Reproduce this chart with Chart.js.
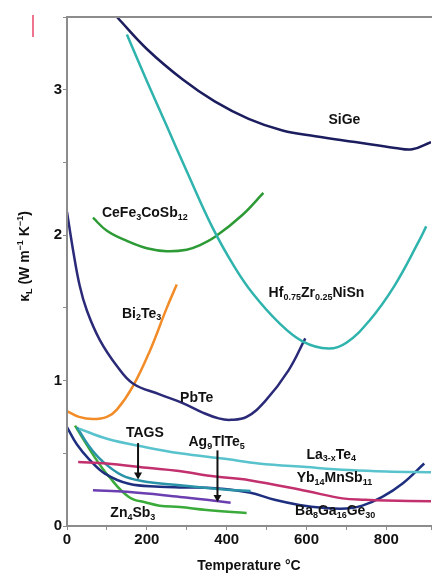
<!DOCTYPE html>
<html>
<head>
<meta charset="utf-8">
<script src="https://cdn.jsdelivr.net/npm/chart.js@4.4.1/dist/chart.umd.min.js"></script>
<style>
html, body { margin: 0; padding: 0; background: #fff; }
canvas { display: block; }
</style>
</head>
<body>
<canvas id="grafica" width="432" height="577"></canvas>
<script>
// temperaturas (°C) y conductividad termica de red (W m-1 K-1)
const siGeT = [125, 200, 290, 370, 455, 540, 622, 722, 822, 865, 912];
const siGeK = [3.5, 3.28, 3.07, 2.92, 2.80, 2.72, 2.68, 2.64, 2.60, 2.59, 2.64];

const hfT = [150, 200, 250, 300, 365, 420, 465, 530, 590, 655, 700, 757, 820, 882, 900];
const hfK = [3.38, 3.06, 2.75, 2.44, 2.05, 1.78, 1.60, 1.40, 1.27, 1.22, 1.26, 1.41, 1.65, 1.96, 2.06];

const ceT = [65, 100, 150, 200, 250, 300, 332, 372, 440, 492];
const ceK = [2.12, 2.03, 1.96, 1.91, 1.89, 1.90, 1.93, 1.99, 2.14, 2.29];

const pbT = [0, 15, 32, 50, 82, 125, 165, 232, 290, 340, 380, 410, 450, 497, 555, 597];
const pbK = [2.16, 1.9, 1.65, 1.48, 1.28, 1.1, 0.98, 0.905, 0.845, 0.78, 0.74, 0.73, 0.75, 0.86, 1.07, 1.29];

const biT = [0, 30, 65, 100, 125, 165, 207, 250, 275];
const biK = [0.79, 0.75, 0.735, 0.75, 0.80, 0.96, 1.2, 1.5, 1.66];

const laT = [30, 100, 200, 283, 400, 480, 600, 707, 800, 912];
const laK = [0.67, 0.60, 0.54, 0.50, 0.46, 0.43, 0.405, 0.385, 0.375, 0.37];

const ybT = [28, 100, 200, 275, 372, 457, 600, 690, 747, 800, 912];
const ybK = [0.44, 0.43, 0.40, 0.38, 0.34, 0.315, 0.24, 0.19, 0.18, 0.175, 0.17];

const tagsT = [25, 55, 87, 137, 187, 283, 400, 460];
const tagsK = [0.68, 0.55, 0.45, 0.35, 0.31, 0.28, 0.25, 0.24];

const baT = [0, 25, 55, 95, 155, 232, 283, 372, 457, 520, 582, 640, 700, 740, 790, 840, 895];
const baK = [0.68, 0.56, 0.46, 0.36, 0.29, 0.27, 0.265, 0.26, 0.23, 0.18, 0.145, 0.125, 0.12, 0.14, 0.2, 0.29, 0.43];

const agT = [65, 150, 283, 350, 410];
const agK = [0.245, 0.235, 0.2, 0.18, 0.16];

const znT = [20, 70, 105, 155, 200, 232, 283, 350, 450];
const znK = [0.69, 0.47, 0.34, 0.2, 0.16, 0.14, 0.13, 0.11, 0.09];

const ticksX = [0, 200, 400, 600, 800];
const ticksY = [0, 1, 2, 3];

// rotulos de cada material
const rotulos = [
    { texto: 'SiGe', t: 695, k: 2.79 },
    { texto: 'CeFe_{3}CoSb_{12}', t: 195, k: 2.15 },
    { texto: 'Hf_{0.75}Zr_{0.25}NiSn', t: 625, k: 1.60 },
    { texto: 'Bi_{2}Te_{3}', t: 187, k: 1.46 },
    { texto: 'PbTe', t: 325, k: 0.88 },
    { texto: 'TAGS', t: 195, k: 0.64 },
    { texto: 'Ag_{9}TlTe_{5}', t: 375, k: 0.575 },
    { texto: 'La_{3-x}Te_{4}', t: 662, k: 0.49 },
    { texto: 'Yb_{14}MnSb_{11}', t: 670, k: 0.33 },
    { texto: 'Ba_{8}Ga_{16}Ge_{30}', t: 672, k: 0.10 },
    { texto: 'Zn_{4}Sb_{3}', t: 165, k: 0.09 },
];
const flechas = [
    { t: 178, desde: 0.57, hasta: 0.32 },
    { t: 377, desde: 0.52, hasta: 0.165 },
];

const fuente = '"Liberation Sans", Arial, sans-serif';

function serie(nombre, t, k, color) {
    return {
        label: nombre,
        data: t.map((x, i) => ({ x: x, y: k[i] })),
        borderColor: color,
        borderWidth: 2.5,
        pointRadius: 0,
        fill: false,
        tension: 0.4,
    };
}

function partes(str) {
    const out = [];
    const re = /([_^])\{([^}]*)\}|([^_^]+)/g;
    let m;
    while ((m = re.exec(str))) {
        out.push(m[3] ? { s: m[3], tipo: '' } : { s: m[2], tipo: m[1] });
    }
    return out;
}

function textoRico(ctx, str, x, y, size) {
    const ps = partes(str);
    const fnt = tipo => 'bold ' + (tipo ? Math.round(size * 0.65) : size) + 'px ' + fuente;
    let w = 0;
    ps.forEach(p => { ctx.font = fnt(p.tipo); p.w = ctx.measureText(p.s).width; w += p.w; });
    let cx = x - w / 2;
    ctx.textAlign = 'left';
    ctx.textBaseline = 'middle';
    ps.forEach(p => {
        ctx.font = fnt(p.tipo);
        const dy = p.tipo === '_' ? size * 0.3 : p.tipo === '^' ? -size * 0.35 : 0;
        ctx.fillText(p.s, cx, y + dy);
        cx += p.w;
    });
}

const extras = {
    id: 'extras',
    afterDatasetsDraw(chart) {
        const ctx = chart.ctx;
        const a = chart.chartArea;
        const sx = chart.scales.x, sy = chart.scales.y;
        ctx.save();
        // marco
        ctx.strokeStyle = '#8c8c8c';
        ctx.lineWidth = 2;
        ctx.strokeRect(a.left, a.top, a.right - a.left + 2, a.bottom - a.top);
        // flechas
        ctx.strokeStyle = '#111';
        ctx.fillStyle = '#111';
        ctx.lineWidth = 2;
        flechas.forEach(f => {
            const x = sx.getPixelForValue(f.t);
            const y1 = sy.getPixelForValue(f.desde), y2 = sy.getPixelForValue(f.hasta);
            ctx.beginPath();
            ctx.moveTo(x, y1);
            ctx.lineTo(x, y2 - 5);
            ctx.stroke();
            ctx.beginPath();
            ctx.moveTo(x - 4, y2 - 7);
            ctx.lineTo(x + 4, y2 - 7);
            ctx.lineTo(x, y2);
            ctx.closePath();
            ctx.fill();
        });
        // rotulos
        ctx.fillStyle = '#111';
        rotulos.forEach(r => {
            textoRico(ctx, r.texto, sx.getPixelForValue(r.t), sy.getPixelForValue(r.k), 14);
        });
        // titulo eje y
        ctx.translate(25, (a.top + a.bottom) / 2 - 15);
        ctx.rotate(-Math.PI / 2);
        textoRico(ctx, 'κ_{L} (W m^{−1} K^{−1})', 0, 0, 14);
        ctx.restore();
        // marca roja
        ctx.save();
        ctx.strokeStyle = '#e8446a';
        ctx.lineWidth = 1.5;
        ctx.beginPath();
        ctx.moveTo(33, 15);
        ctx.lineTo(33, 37);
        ctx.stroke();
        ctx.restore();
    }
};

new Chart(document.querySelector('#grafica'), {
    type: 'line',
    data: {
        datasets: [
            serie('SiGe', siGeT, siGeK, '#1b1d5e'),
            serie('Hf0.75Zr0.25NiSn', hfT, hfK, '#2fb3ad'),
            serie('CeFe3CoSb12', ceT, ceK, '#2c9a35'),
            serie('PbTe', pbT, pbK, '#2b2a78'),
            serie('Bi2Te3', biT, biK, '#f28c28'),
            serie('La3-xTe4', laT, laK, '#58c3cc'),
            serie('Yb14MnSb11', ybT, ybK, '#c2306e'),
            serie('TAGS', tagsT, tagsK, '#2a93a8'),
            serie('Ba8Ga16Ge30', baT, baK, '#1f2f80'),
            serie('Ag9TlTe5', agT, agK, '#6b3fb0'),
            serie('Zn4Sb3', znT, znK, '#3aaa3a'),
        ]
    },
    options: {
        responsive: false,
        animation: false,
        devicePixelRatio: 1,
        layout: { padding: { top: 17, right: 0, left: 0, bottom: 0 } },
        plugins: { legend: { display: false }, tooltip: { enabled: false } },
        scales: {
            x: {
                type: 'linear',
                min: 0,
                max: 912,
                afterFit(s) { s.height = 51; },
                ticks: {
                    stepSize: 100,
                    autoSkip: false,
                    maxRotation: 0,
                    padding: 1,
                    color: '#111',
                    font: { family: fuente, size: 15, weight: 'bold' },
                    callback: v => ticksX.includes(v) ? v : '',
                },
                grid: { drawOnChartArea: false, tickLength: 4, color: '#8c8c8c' },
                border: { color: '#8c8c8c', width: 2 },
                title: {
                    display: true,
                    text: 'Temperature °C',
                    color: '#111',
                    font: { family: fuente, size: 14, weight: 'bold' },
                    padding: { top: 0, bottom: 2 },
                },
            },
            y: {
                min: 0,
                max: 3.5,
                afterFit(s) { s.width = 67; },
                ticks: {
                    stepSize: 0.5,
                    autoSkip: false,
                    padding: 1,
                    color: '#111',
                    font: { family: fuente, size: 15, weight: 'bold' },
                    callback: v => ticksY.includes(v) ? v : '',
                },
                grid: { drawOnChartArea: false, tickLength: 4, color: '#8c8c8c' },
                border: { color: '#8c8c8c', width: 2 },
            },
        },
    },
    plugins: [extras],
});
</script>
</body>
</html>
